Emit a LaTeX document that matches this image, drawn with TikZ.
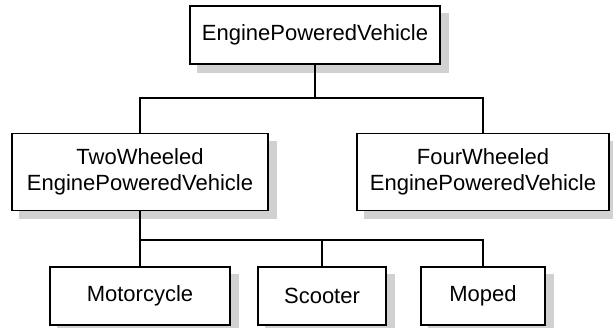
\documentclass[tikz,border=0pt]{standalone}
\usepackage{fontspec}
\setmainfont{Liberation Sans}
\usetikzlibrary{backgrounds}
\begin{document}
\begin{tikzpicture}[x=1pt, y=-1pt,
  cls/.style={shape=rectangle, draw=black, fill=white, line width=1.8pt, inner sep=0pt,
    align=center, font=\fontsize{22}{26}\selectfont},
  clsshadow/.style={fill=black!18, draw=none},
  link/.style={draw=black, line width=1.4pt}]
\useasboundingbox (0,0) rectangle (613,328);
\node[cls, minimum width=250pt, minimum height=58pt] (vehicle) at (315,35) {EnginePoweredVehicle};
\node[cls, minimum width=256pt, minimum height=77pt] (two) at (140,172) {TwoWheeled\\EnginePoweredVehicle};
\node[cls, minimum width=252pt, minimum height=77pt] (four) at (483,172) {FourWheeled\\EnginePoweredVehicle};
\node[cls, minimum width=180pt, minimum height=58pt] (motorcycle) at (140,296) {Motorcycle};
\node[cls, minimum width=128pt, minimum height=58pt] (scooter) at (322,296) {Scooter};
\node[cls, minimum width=124pt, minimum height=58pt] (moped) at (483,296) {Moped};
\begin{scope}[on background layer]
\foreach \n in {vehicle,two,four,motorcycle,scooter,moped}
  \path[clsshadow] ([xshift=8pt,yshift=-8pt]\n.south west) rectangle ([xshift=8pt,yshift=-8pt]\n.north east);
\end{scope}
\coordinate (bus1) at (315,98);
\coordinate (bus2) at (140,240);
\draw[link] (vehicle.south) -- (bus1);
\draw[link] (two.north) |- (bus1) -| (four.north);
\draw[link] (two.south) -- (motorcycle.north);
\draw[link] (bus2) -| (scooter.north);
\draw[link] (bus2) -| (moped.north);
\end{tikzpicture}
\end{document}
